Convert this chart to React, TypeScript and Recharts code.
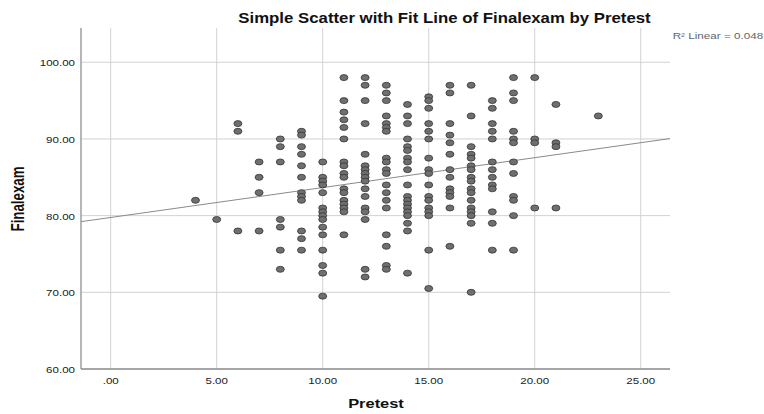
import React from 'react';
import { ScatterChart, Scatter, XAxis, YAxis, CartesianGrid, ReferenceLine } from 'recharts';

// Pretest score of each student (one line per pretest value)
const pretest = [
  4,
  5,
  6, 6, 6,
  7, 7, 7, 7,
  8, 8, 8, 8, 8, 8, 8,
  9, 9, 9, 9, 9, 9, 9, 9, 9, 9, 9, 9,
  10, 10, 10, 10, 10, 10, 10, 10, 10, 10, 10, 10, 10, 10, 10,
  11, 11, 11, 11, 11, 11, 11, 11, 11, 11, 11, 11, 11, 11, 11, 11, 11,
  12, 12, 12, 12, 12, 12, 12, 12, 12, 12, 12, 12, 12, 12, 12, 12, 12,
  13, 13, 13, 13, 13, 13, 13, 13, 13, 13, 13, 13, 13, 13, 13, 13, 13, 13, 13,
  14, 14, 14, 14, 14, 14, 14, 14, 14, 14, 14, 14, 14, 14, 14, 14, 14, 14, 14,
  15, 15, 15, 15, 15, 15, 15, 15, 15, 15, 15, 15, 15, 15, 15, 15, 15,
  16, 16, 16, 16, 16, 16, 16, 16, 16, 16, 16, 16, 16,
  17, 17, 17, 17, 17, 17, 17, 17, 17, 17, 17, 17, 17, 17, 17, 17, 17,
  18, 18, 18, 18, 18, 18, 18, 18, 18, 18, 18, 18, 18,
  19, 19, 19, 19, 19, 19, 19, 19, 19, 19, 19, 19,
  20, 20, 20, 20,
  21, 21, 21, 21,
  23,
];

// Final exam score of each student (same order as pretest)
const finalexam = [
  82,
  79.5,
  92, 91, 78,
  87, 85, 83, 78,
  90, 89, 87, 79.5, 78.5, 75.5, 73,
  91, 90.5, 89, 88, 86.5, 85, 83, 82.5, 82, 78, 77, 75.5,
  87, 85, 84.5, 84, 83, 81, 80.5, 80, 79.5, 78.5, 77.5, 75.5, 73.5, 72.5, 69.5,
  98, 95, 93.5, 92.5, 91.5, 90, 87, 86.5, 85.5, 85, 83.5, 83, 82, 81.5, 81, 80.5, 77.5,
  98, 97, 95, 92, 88, 86.5, 86, 85.5, 85, 84.5, 83.5, 82.5, 81, 80.5, 79.5, 73, 72,
  97, 96, 95, 93, 92, 91.5, 91, 87.5, 87, 86, 85.5, 84, 83, 82, 81, 77.5, 76, 73.5, 73,
  94.5, 93, 92, 90, 89, 88.5, 87.5, 87, 86, 84, 82.5, 82, 81.5, 81, 80.5, 80, 79, 78, 72.5,
  95.5, 95, 94, 92, 91, 90, 87.5, 86, 85.5, 84, 82.5, 82, 81, 80.5, 80, 75.5, 70.5,
  97, 96, 92, 90.5, 89.5, 88, 86, 85, 83.5, 83, 82.5, 81, 76,
  97, 93, 89, 88, 87.5, 86.5, 86, 85, 84.5, 83.5, 83, 82, 81, 80.5, 80, 79, 70,
  95, 94, 92, 91, 90, 87, 86, 85, 84, 83.5, 80.5, 79, 75.5,
  98, 96, 95, 91, 90, 89.5, 87, 85.5, 82.5, 82, 80, 75.5,
  98, 90, 89.5, 81,
  94.5, 89.5, 89, 81,
  93,
];

const xTicks = [0, 5, 10, 15, 20, 25];
const yTicks = [60, 70, 80, 90, 100];
const fitIntercept = 79.76;
const fitSlope = 0.39;
const rSquared = 0.048;

const titleText = 'Simple Scatter with Fit Line of Finalexam by Pretest';
const xLabel = 'Pretest';
const yLabel = 'Finalexam';

const X_DOMAIN: [number, number] = [-1.4, 26.38];
const Y_DOMAIN: [number, number] = [60, 104.47];

const FONT = '"Liberation Sans", Arial, sans-serif';
const STRETCH = 1.36;

const data = pretest.map((x, i) => ({ x, y: finalexam[i] }));

const fitSegment = [
  { x: X_DOMAIN[0], y: fitIntercept + fitSlope * X_DOMAIN[0] },
  { x: X_DOMAIN[1], y: fitIntercept + fitSlope * X_DOMAIN[1] },
];

const fmt = (v: number) => {
  const s = v.toFixed(2);
  return s.startsWith('0.') ? s.slice(1) : s;
};

const XTick = (props: any) => {
  const { x, y, payload } = props;
  return (
    <text
      transform={`translate(${x},${y + 15}) scale(${STRETCH},1)`}
      textAnchor="middle"
      fontSize={8.5}
      fill="#222"
      fontFamily={FONT}
    >
      {fmt(payload.value)}
    </text>
  );
};

const YTick = (props: any) => {
  const { x, y, payload } = props;
  return (
    <text
      transform={`translate(${x - 6},${y + 4}) scale(${STRETCH},1)`}
      textAnchor="end"
      fontSize={8.5}
      fill="#222"
      fontFamily={FONT}
    >
      {fmt(payload.value)}
    </text>
  );
};

const Dot = (props: any) => {
  const { cx, cy } = props;
  if (cx == null || cy == null) return null;
  return <ellipse cx={cx} cy={cy} rx={4} ry={3} fill="#6f6f6f" stroke="#333" strokeWidth={0.8} />;
};

export default function App() {
  return (
    <div style={{ position: 'fixed', left: 0, top: 0, width: 764, height: 414, background: '#fff' }}>
      <ScatterChart width={764} height={414} margin={{ top: 28, right: 94, bottom: 0, left: 0 }}>
        <CartesianGrid
          stroke="#d2d2d2"
          strokeWidth={1}
          syncWithTicks
          verticalValues={xTicks}
          horizontalValues={yTicks}
        />
        <XAxis
          type="number"
          dataKey="x"
          domain={X_DOMAIN}
          ticks={xTicks}
          allowDataOverflow
          interval={0}
          height={45}
          tickLine={false}
          tickSize={0}
          tickMargin={0}
          axisLine={{ stroke: '#8f8f8f', strokeWidth: 1.3 }}
          tick={<XTick />}
        />
        <YAxis
          type="number"
          dataKey="y"
          domain={Y_DOMAIN}
          ticks={yTicks}
          allowDataOverflow
          interval={0}
          width={81}
          tickLine={false}
          tickSize={0}
          tickMargin={0}
          axisLine={{ stroke: '#8f8f8f', strokeWidth: 1.3 }}
          tick={<YTick />}
        />
        <ReferenceLine
          segment={fitSegment}
          stroke="#8a8a8a"
          strokeWidth={1}
          ifOverflow="visible"
        />
        <Scatter data={data} isAnimationActive={false} shape={<Dot />} />
      </ScatterChart>
      <svg
        width={764}
        height={414}
        style={{ position: 'absolute', left: 0, top: 0, pointerEvents: 'none' }}
      >
        <text
          transform={`translate(444.5,22.5) scale(1.2,1)`}
          textAnchor="middle"
          fontSize={14}
          fontWeight="bold"
          fill="#111"
          fontFamily={FONT}
        >
          {titleText}
        </text>
        <text
          transform={`translate(376,407.5) scale(1.37,1)`}
          textAnchor="middle"
          fontSize={12}
          fontWeight="bold"
          fill="#111"
          fontFamily={FONT}
        >
          {xLabel}
        </text>
        <text
          transform={`translate(24,199) rotate(-90) scale(1,1.36)`}
          textAnchor="middle"
          fontSize={13.3}
          fontWeight="bold"
          fill="#111"
          fontFamily={FONT}
        >
          {yLabel}
        </text>
        <text
          transform={`translate(672.7,39.3) scale(1.39,1)`}
          textAnchor="start"
          fontSize={8.4}
          fill="#666"
          fontFamily={FONT}
        >
          {`R² Linear = ${rSquared}`}
        </text>
      </svg>
    </div>
  );
}
